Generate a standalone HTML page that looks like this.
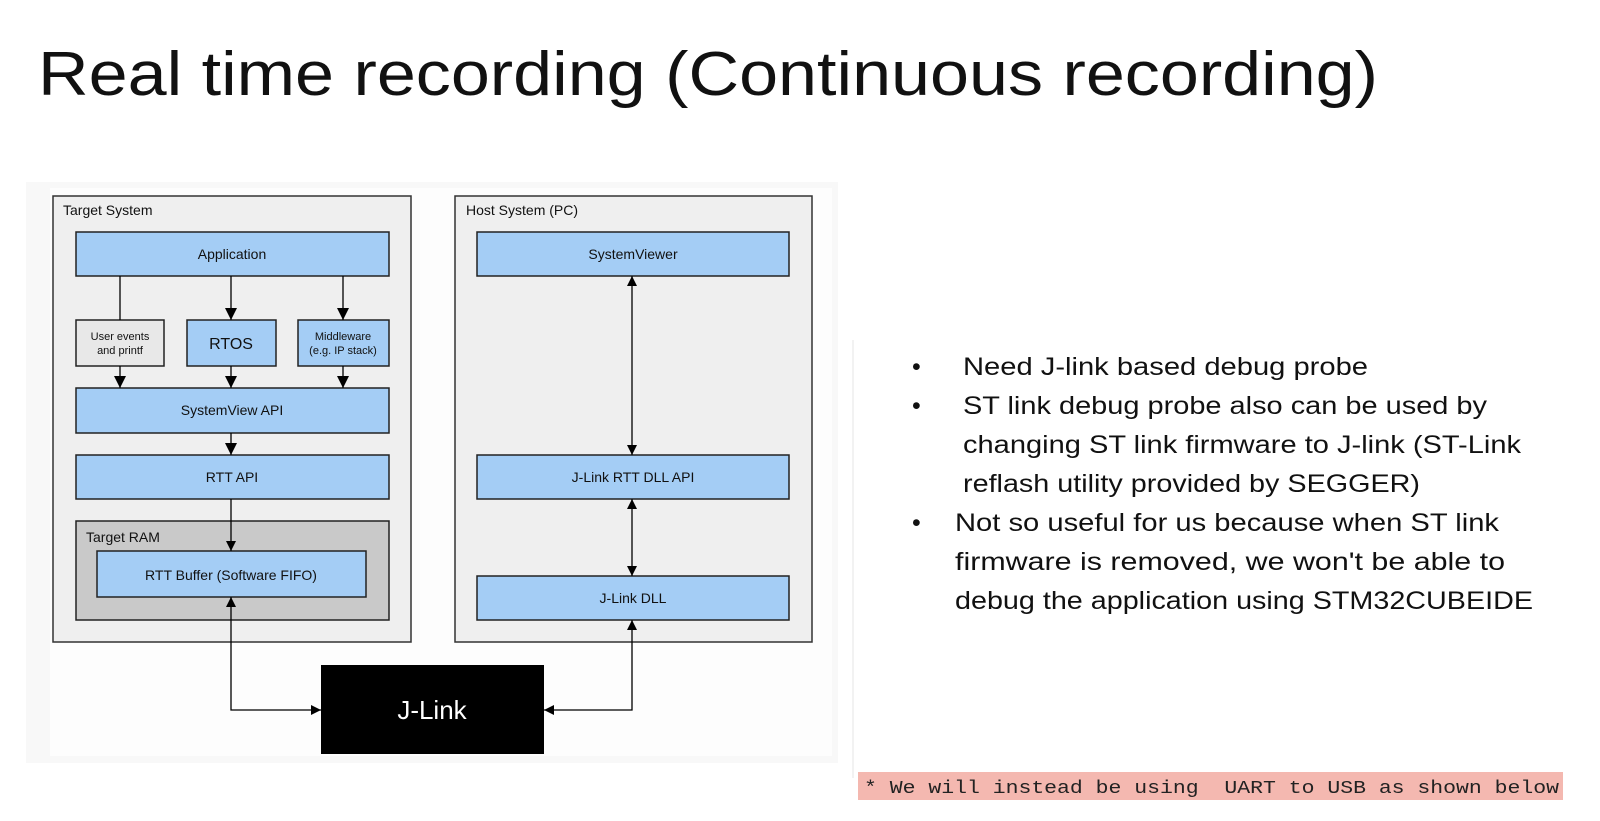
<!DOCTYPE html>
<html><head><meta charset="utf-8"><style>
html,body{margin:0;padding:0;background:#fff;}
svg{display:block}
</style></head><body>
<svg width="1600" height="821" viewBox="0 0 1600 821" xmlns="http://www.w3.org/2000/svg">
<defs>
<marker id="a" viewBox="0 0 10 10" refX="10" refY="5" markerWidth="10" markerHeight="10" markerUnits="userSpaceOnUse" orient="auto-start-reverse"><path d="M0,0 L10,5 L0,10 z" fill="#000"/></marker>
<marker id="b" viewBox="0 0 10 10" refX="10" refY="5" markerWidth="14" markerHeight="12" markerUnits="userSpaceOnUse" orient="auto-start-reverse"><path d="M0,0 L10,5 L0,10 z" fill="#000"/></marker>
</defs>
<rect width="1600" height="821" fill="#fff"/>
<text x="38" y="95" font-family="Liberation Sans, sans-serif" font-size="62" fill="#111" textLength="1340" lengthAdjust="spacingAndGlyphs">Real time recording (Continuous recording)</text>

<rect x="26" y="182" width="812" height="581" fill="#f8f8f8"/>
<rect x="50" y="188" width="782" height="568" fill="#fdfdfd"/>
<line x1="853" y1="340" x2="853" y2="778" stroke="#e6e6e6" stroke-width="1"/>

<g font-family="Liberation Sans, sans-serif" fill="#111" stroke-width="1.5">
<rect x="53" y="196" width="358" height="446" fill="#efefef" stroke="#333"/>
<rect x="455" y="196" width="357" height="446" fill="#efefef" stroke="#333"/>
<text x="63" y="215" font-size="14" stroke="none">Target System</text>
<text x="466" y="215" font-size="14" stroke="none">Host System (PC)</text>

<g stroke="#222" fill="#a4cdf5">
<rect x="76" y="232" width="313" height="44"/>
<rect x="76" y="320" width="88" height="46" fill="#e8e8e8"/>
<rect x="187" y="320" width="89" height="46"/>
<rect x="298" y="320" width="91" height="46"/>
<rect x="76" y="388" width="313" height="45"/>
<rect x="76" y="455" width="313" height="44"/>
<rect x="76" y="521" width="313" height="99" fill="#c9c9c9"/>
<rect x="97" y="551" width="269" height="46"/>
<rect x="477" y="232" width="312" height="44"/>
<rect x="477" y="455" width="312" height="44"/>
<rect x="477" y="576" width="312" height="44"/>
</g>
<rect x="321" y="665" width="223" height="89" fill="#000"/>

<g stroke="none" text-anchor="middle" font-size="14">
<text x="232" y="259">Application</text>
<text x="120" y="340" font-size="11">User events</text>
<text x="120" y="354" font-size="11">and printf</text>
<text x="231" y="349" font-size="16">RTOS</text>
<text x="343" y="340" font-size="11">Middleware</text>
<text x="343" y="354" font-size="11">(e.g. IP stack)</text>
<text x="232" y="415">SystemView API</text>
<text x="232" y="482">RTT API</text>
<text x="231" y="580">RTT Buffer (Software FIFO)</text>
<text x="633" y="259">SystemViewer</text>
<text x="633" y="482">J-Link RTT DLL API</text>
<text x="633" y="603">J-Link DLL</text>
<text x="432" y="719" font-size="26" fill="#fff">J-Link</text>
</g>
<text x="86" y="542" font-size="14" stroke="none">Target RAM</text>

<g stroke="#000" stroke-width="1.3" fill="none">
<line x1="120" y1="276" x2="120" y2="320"/>
<line x1="231" y1="276" x2="231" y2="320" marker-end="url(#b)"/>
<line x1="343" y1="276" x2="343" y2="320" marker-end="url(#b)"/>
<line x1="120" y1="366" x2="120" y2="388" marker-end="url(#b)"/>
<line x1="231" y1="366" x2="231" y2="388" marker-end="url(#b)"/>
<line x1="343" y1="366" x2="343" y2="388" marker-end="url(#b)"/>
<line x1="231" y1="433" x2="231" y2="455" marker-end="url(#b)"/>
<line x1="231" y1="499" x2="231" y2="551" marker-end="url(#a)"/>
<polyline points="231,597 231,710 321,710" marker-start="url(#a)" marker-end="url(#a)"/>
<polyline points="544,710 632,710 632,620" marker-start="url(#a)" marker-end="url(#a)"/>
<line x1="632" y1="276" x2="632" y2="455" marker-start="url(#a)" marker-end="url(#a)"/>
<line x1="632" y1="499" x2="632" y2="576" marker-start="url(#a)" marker-end="url(#a)"/>
</g>
</g>

<g font-family="Liberation Sans, sans-serif" font-size="25" fill="#111">
<text x="912" y="375">•</text>
<text x="963" y="375" textLength="405" lengthAdjust="spacingAndGlyphs">Need J-link based debug probe</text>
<text x="912" y="414">•</text>
<text x="963" y="414" textLength="524" lengthAdjust="spacingAndGlyphs">ST link debug probe also can be used by</text>
<text x="963" y="453" textLength="558" lengthAdjust="spacingAndGlyphs">changing ST link firmware to J-link (ST-Link</text>
<text x="963" y="492" textLength="457" lengthAdjust="spacingAndGlyphs">reflash utility provided by SEGGER)</text>
<text x="912" y="531">•</text>
<text x="955" y="531" textLength="544" lengthAdjust="spacingAndGlyphs">Not so useful for us because when ST link</text>
<text x="955" y="570" textLength="550" lengthAdjust="spacingAndGlyphs">firmware is removed, we won't be able to</text>
<text x="955" y="609" textLength="578" lengthAdjust="spacingAndGlyphs">debug the application using STM32CUBEIDE</text>
</g>

<rect x="858" y="772" width="705" height="28" fill="#f4b8b0"/>
<text x="864" y="793" font-family="Liberation Mono, monospace" font-size="18" fill="#222" textLength="695" lengthAdjust="spacingAndGlyphs" xml:space="preserve">* We will instead be using  UART to USB as shown below</text>
</svg>
</body></html>
